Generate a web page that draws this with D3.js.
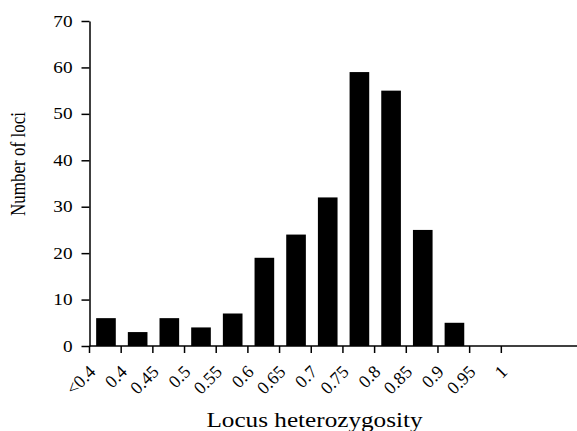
<!DOCTYPE html>
<html>
<head>
<meta charset="utf-8">
<script src="https://cdnjs.cloudflare.com/ajax/libs/d3/7.8.5/d3.min.js"></script>
<style>
	body { margin: 0; background: #fff; }
	text { font-family: "Liberation Serif", "Times New Roman", serif; fill: #000; }
	.axis path, .axis line { stroke: #000; stroke-width: 1.5; }
</style>
</head>
<body>
<div id="chart"></div>
<script>
// bin labels (left edge of each bin) and counts
var tickLabels = ["<0.4","0.4","0.45","0.5","0.55","0.6","0.65","0.7","0.75","0.8","0.85","0.9","0.95","1"];
var binLabels = ["<0.4","0.4","0.45","0.5","0.55","0.6","0.65","0.7","0.75","0.8","0.85","0.9","0.95"];
var counts = [6,3,6,4,7,19,24,32,59,55,25,5,0];
var yTicks = [0,10,20,30,40,50,60,70];

var width = 577, height = 431;
var stretch = 1.2; // the original type is a bit wide

var svg = d3.select("#chart").append("svg")
	.attr("width", width)
	.attr("height", height);

var x = d3.scaleBand()
	.domain(tickLabels)
	.range([89.5, 533]);

var y = d3.scaleLinear()
	.domain([0, 70])
	.range([346, 21]);

var bw = x.bandwidth();

// bars
svg.selectAll(".bar")
	.data(counts)
	.enter().append("rect")
	.attr("class", "bar")
	.attr("x", function(d, i) { return x(binLabels[i]) + bw * 0.21; })
	.attr("width", bw * 0.62)
	.attr("y", function(d) { return y(d); })
	.attr("height", function(d) { return y(0) - y(d); })
	.attr("fill", "#000");

// y axis
var yAxis = svg.append("g")
	.attr("class", "axis")
	.attr("transform", "translate(" + 89.5 + ",0)")
	.call(d3.axisLeft(y).tickValues(yTicks).tickSize(8).tickSizeOuter(0));
yAxis.attr("font-family", null).attr("font-size", null);
yAxis.selectAll("text")
	.style("font-size", "16px")
	.attr("x", 0)
	.attr("transform", "translate(-17,0) scale(" + stretch + ",1)");

// x axis
var xAxis = svg.append("g")
	.attr("class", "axis")
	.attr("transform", "translate(0," + y(0) + ")")
	.call(d3.axisBottom(x).tickSize(7).tickSizeOuter(0));
xAxis.attr("font-family", null).attr("font-size", null);
xAxis.select(".domain").remove();
xAxis.selectAll(".tick").attr("transform", function(d) { return "translate(" + x(d) + ",0)"; });
xAxis.selectAll("text")
	.style("font-size", "18px")
	.attr("text-anchor", "end")
	.attr("y", 0)
	.attr("dy", "0")
	.attr("transform", "translate(7,27) rotate(-45)");

svg.append("line")
	.attr("x1", 89.5).attr("x2", width)
	.attr("y1", y(0)).attr("y2", y(0))
	.attr("stroke", "#000").attr("stroke-width", 1.5);

// labels
svg.append("text")
	.attr("transform", "translate(314.5,426.5) scale(" + stretch + ",1)")
	.attr("text-anchor", "middle")
	.style("font-size", "21px")
	.text("Locus heterozygosity");

svg.append("text")
	.attr("transform", "translate(25,164) scale(" + stretch + ",1) rotate(-90)")
	.attr("text-anchor", "middle")
	.style("font-size", "17px")
	.text("Number of loci");
</script>
</body>
</html>
